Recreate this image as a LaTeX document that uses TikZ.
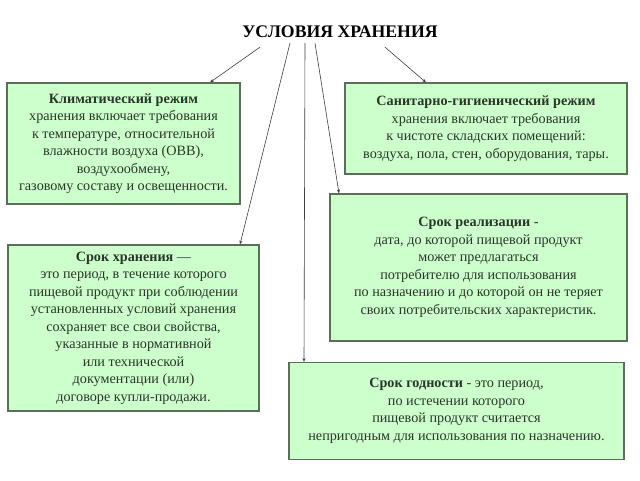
\documentclass[tikz,border=0pt]{standalone}
\usepackage{fontspec}
\setmainfont{Liberation Serif}
\usetikzlibrary{arrows.meta}
\definecolor{boxfill}{HTML}{CCFFCC}
\definecolor{boxline}{HTML}{5A6E5A}
\definecolor{txt}{HTML}{2A362A}
\definecolor{arrline}{HTML}{404040}
\tikzset{
  infobox/.style={draw=boxline, fill=boxfill, line width=1.1pt, inner sep=0pt,
    text=txt, align=center, font=\fontsize{14.2}{17.5}\selectfont},
  conn/.style={draw=arrline, line width=0.6pt, -{Stealth[length=4pt,width=3pt]}},
  heading/.style={font=\fontsize{17.7}{20}\selectfont\bfseries, text=black, inner sep=0pt}
}
\begin{document}
\begin{tikzpicture}[x=1pt,y=-1pt]
\useasboundingbox[fill=white] (0,0) rectangle (640,480);
\node[heading] (title) at (340,32) {УСЛОВИЯ ХРАНЕНИЯ};
\node[infobox, minimum width=233pt, minimum height=121pt] (b1) at (123.5,143.5)
  {\textbf{Климатический режим}\\хранения включает требования\\к температуре, относительной\\влажности воздуха (ОВВ),\\воздухообмену,\\газовому составу и освещенности.};
\node[infobox, minimum width=282pt, minimum height=91pt] (b2) at (486,128.5)
  {\textbf{Санитарно-гигиенический режим}\\хранения включает требования\\к чистоте складских помещений:\\воздуха, пола, стен, оборудования, тары.};
\node[infobox, minimum width=251pt, minimum height=166pt] (b3) at (133.5,328)
  {\textbf{Срок хранения} —\\это период, в течение которого\\пищевой продукт при соблюдении\\установленных условий хранения\\сохраняет все свои свойства,\\указанные в нормативной\\или технической\\документации (или)\\договоре купли-продажи.};
\node[infobox, minimum width=297pt, minimum height=147pt] (b4) at (478.5,267.5)
  {\textbf{Срок реализации} -\\дата, до которой пищевой продукт\\может предлагаться\\потребителю для использования\\по назначению и до которой он не теряет\\своих потребительских характеристик.};
\node[infobox, minimum width=335pt, minimum height=97pt] (b5) at (456.5,411)
  {\textbf{Срок годности} - это период,\\по истечении которого\\пищевой продукт считается\\непригодным для использования по назначению.};
\draw[conn] ([xshift=-80pt,yshift=-9pt]title.south) -- ([xshift=86.5pt]b1.north);
\draw[conn] ([xshift=45pt,yshift=-9pt]title.south) -- ([xshift=-60pt]b2.north);
\draw[conn] ([xshift=-50pt,yshift=-5pt]title.south) -- ([xshift=106.5pt]b3.north);
\draw[conn] ([xshift=-35pt,yshift=-5pt]title.south) -- ([xshift=-152.5pt]b5.north);
\draw[conn] ([xshift=-25pt,yshift=-5pt]title.south) -- ([xshift=-139.5pt]b4.north);
\end{tikzpicture}
\end{document}
